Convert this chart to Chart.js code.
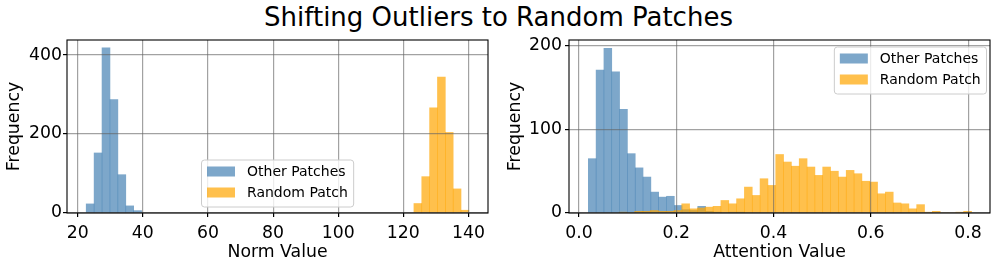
<!DOCTYPE html>
<html>
<head>
<meta charset="utf-8">
<script src="https://cdn.jsdelivr.net/npm/chart.js@4.4.1/dist/chart.umd.min.js"></script>
<style>
  html, body { margin: 0; padding: 0; background: #fff; }
  #page { position: relative; width: 997px; height: 264px; overflow: hidden; }
  #title { position: absolute; left: 0; top: 2px; width: 997px; text-align: center;
           font-family: "DejaVu Sans"; font-size: 26px; line-height: 30px; color: #000; }
  .panel { position: absolute; top: 0; height: 264px; }
  #left { left: 0; width: 497px; }
  #right { left: 497px; width: 500px; }
</style>
</head>
<body>
<div id="page">
  <div id="title">Shifting Outliers to Random Patches</div>
  <div class="panel" id="left"><canvas id="normChart" width="497" height="264"></canvas></div>
  <div class="panel" id="right"><canvas id="attnChart" width="500" height="264"></canvas></div>
</div>
<script>
const seriesNames = ["Other Patches", "Random Patch"];
const seriesColors = ["rgba(70,130,180,0.7)", "rgba(255,165,0,0.7)"];

// left panel: norm values (bin edges, counts)
const normOtherEdges = [22.60, 25.03, 27.46, 29.89, 32.32, 34.75, 37.18, 39.61];
const normOtherCounts = [23, 152, 418, 287, 97, 18, 6];
const normRandomEdges = [123.25, 125.66, 128.07, 130.48, 132.89, 135.30, 137.71, 140.12];
const normRandomCounts = [24, 92, 266, 344, 204, 61, 7];
const normXTicks = [20, 40, 60, 80, 100, 120, 140];
const normYTicks = [0, 200, 400];
const normXRange = [16.7, 146.0];
const normYMax = 438;

// right panel: attention values
const attnOtherEdges = [0.0192, 0.0353, 0.0513, 0.0674, 0.0835, 0.0996, 0.1156, 0.1317, 0.1478, 0.1638,
  0.1799, 0.1960, 0.2120, 0.2281, 0.2442, 0.2603, 0.2763, 0.2924, 0.3085, 0.3245, 0.3406];
const attnOtherCounts = [65, 171, 197, 169, 124, 71, 54, 43, 25, 19, 20, 9, 4, 3, 8, 2, 1, 0, 1, 1];
const attnRandomEdges = [0.0825, 0.0986, 0.1147, 0.1308, 0.1469, 0.1630, 0.1791, 0.1952, 0.2113, 0.2274,
  0.2435, 0.2596, 0.2757, 0.2918, 0.3079, 0.3240, 0.3401, 0.3562, 0.3723, 0.3884,
  0.4045, 0.4206, 0.4367, 0.4528, 0.4689, 0.4850, 0.5011, 0.5172, 0.5333, 0.5494,
  0.5655, 0.5816, 0.5977, 0.6138, 0.6299, 0.6460, 0.6621, 0.6782, 0.6943, 0.7104,
  0.7265, 0.7426, 0.7587, 0.7748, 0.7909, 0.8070];
const attnRandomCounts = [1, 0, 2, 2, 3, 2, 2, 3, 11, 5,
  6, 7, 8, 15, 11, 17, 31, 21, 41, 33,
  70, 61, 56, 65, 55, 45, 55, 50, 43, 51,
  47, 38, 37, 23, 25, 12, 11, 5, 10, 1,
  2, 0, 0, 1, 2];
const attnXTicks = [0.0, 0.2, 0.4, 0.6, 0.8];
const attnYTicks = [0, 100, 200];
const attnXRange = [-0.0205, 0.845];
const attnYMax = 207;

const tickFont = { family: "DejaVu Sans", size: 17.3 };
const gridColor = "rgba(100,100,100,0.6)";

function histPoints(edges, counts) {
  return counts.map((c, i) => ({ x: (edges[i] + edges[i + 1]) / 2, y: c }));
}

function fixedTicks(values) {
  return axis => { axis.ticks = values.map(v => ({ value: v })); };
}

// box around the plot + matplotlib-like legend inside the axes
const axesDeco = {
  id: "axesDeco",
  afterDraw(chart, args, opts) {
    const { ctx, chartArea: a } = chart;
    ctx.save();
    ctx.strokeStyle = "#000";
    ctx.lineWidth = 1.1;
    ctx.strokeRect(a.left, a.top, a.right - a.left, a.bottom - a.top);

    const fs = 14;
    ctx.font = fs + 'px "DejaVu Sans"';
    const textW = Math.max(...seriesNames.map(n => ctx.measureText(n).width));
    const w = 5.6 + 28 + 11.2 + textW + 6.5;
    const h = 47;
    const x = opts.right != null ? a.right - opts.right - w : a.left + opts.left;
    const y = a.top + opts.top;
    ctx.beginPath();
    ctx.roundRect(x + 0.5, y + 0.5, w, h, 3);
    ctx.fillStyle = "rgba(255,255,255,0.8)";
    ctx.fill();
    ctx.strokeStyle = "#cccccc";
    ctx.lineWidth = 1;
    ctx.stroke();
    seriesNames.forEach((name, i) => {
      const cy = y + 12 + i * 21;
      ctx.fillStyle = seriesColors[i];
      ctx.fillRect(x + 6, cy - 5, 28, 10);
      ctx.fillStyle = "#000";
      ctx.textBaseline = "middle";
      ctx.fillText(name, x + 46, cy + 1);
    });
    ctx.restore();
  }
};

function makeHist(canvasId, cfg) {
  const xAxis = {
    type: "linear", min: cfg.xRange[0], max: cfg.xRange[1], offset: false,
    afterBuildTicks: fixedTicks(cfg.xTicks),
    ticks: {
      font: tickFont, color: "#000", padding: 6, maxRotation: 0, autoSkip: false,
      callback: cfg.xFormat
    },
    grid: { offset: false, color: gridColor, lineWidth: 1.2, tickColor: "#000", tickLength: 4, z: 1 },
    border: { display: false },
    title: { display: true, text: cfg.xTitle, font: tickFont, color: "#000", padding: { top: 0, bottom: 1 } },
    afterFit: s => { s.height = 51; }
  };
  return new Chart(document.getElementById(canvasId), {
    type: "bar",
    data: {
      datasets: [
        {
          label: seriesNames[0],
          data: histPoints(cfg.otherEdges, cfg.otherCounts),
          backgroundColor: seriesColors[0],
          xAxisID: "x", order: 1
        },
        {
          label: seriesNames[1],
          data: histPoints(cfg.randomEdges, cfg.randomCounts),
          backgroundColor: seriesColors[1],
          xAxisID: "x2", order: 0
        }
      ]
    },
    options: {
      responsive: false,
      animation: false,
      devicePixelRatio: 1,
      layout: { padding: { left: 0, right: cfg.padRight, top: 40, bottom: 0 } },
      datasets: { bar: { barPercentage: 1, categoryPercentage: 1, grouped: false, borderWidth: 0 } },
      scales: {
        x: xAxis,
        x2: { type: "linear", display: false, offset: false, min: cfg.xRange[0], max: cfg.xRange[1] },
        y: {
          min: 0, max: cfg.yMax,
          afterBuildTicks: fixedTicks(cfg.yTicks),
          ticks: { font: tickFont, color: "#000", padding: cfg.yPad },
          grid: { color: gridColor, lineWidth: 1.2, tickColor: "#000", tickLength: 4, z: 1 },
          border: { display: false },
          title: { display: true, text: "Frequency", font: tickFont, color: "#000", padding: { top: cfg.yTitlePad, bottom: 0 } },
          afterFit: s => { s.width = cfg.yAxisWidth; }
        }
      },
      plugins: {
        legend: { display: false },
        tooltip: { enabled: false },
        axesDeco: cfg.legendPos
      }
    },
    plugins: [axesDeco]
  });
}

makeHist("normChart", {
  otherEdges: normOtherEdges, otherCounts: normOtherCounts,
  randomEdges: normRandomEdges, randomCounts: normRandomCounts,
  xTicks: normXTicks, yTicks: normYTicks, xRange: normXRange, yMax: normYMax,
  xTitle: "Norm Value", xFormat: v => String(v),
  yAxisWidth: 67, padRight: 9, yPad: 1, yTitlePad: 3.8,
  legendPos: { left: 134, top: 119.5 }
});

makeHist("attnChart", {
  otherEdges: attnOtherEdges, otherCounts: attnOtherCounts,
  randomEdges: attnRandomEdges, randomCounts: attnRandomCounts,
  xTicks: attnXTicks, yTicks: attnYTicks, xRange: attnXRange, yMax: attnYMax,
  xTitle: "Attention Value", xFormat: v => v.toFixed(1),
  yAxisWidth: 72, padRight: 7, yPad: 3, yTitlePad: 8.5,
  legendPos: { right: 4, top: 6.5 }
});
</script>
</body>
</html>
